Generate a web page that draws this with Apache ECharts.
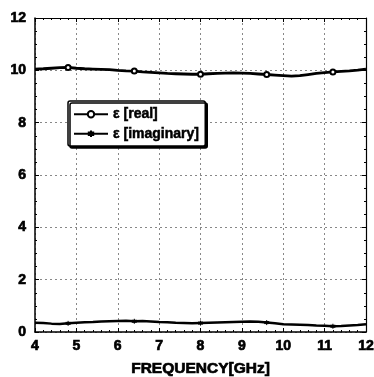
<!DOCTYPE html>
<html>
<head>
<meta charset="utf-8">
<script src="https://cdn.jsdelivr.net/npm/echarts@6/dist/echarts.min.js"></script>
<style>
  html, body { margin: 0; padding: 0; background: #fff; }
  #chart { width: 374px; height: 377px; }
</style>
</head>
<body>
<div id="chart"></div>
<script>
// frequency points (GHz)
var freq = [4.0, 4.2, 4.4, 4.6, 4.8, 5.0, 5.2, 5.4, 5.6, 5.8, 6.0, 6.2, 6.4, 6.6, 6.8,
  7.0, 7.2, 7.4, 7.6, 7.8, 8.0, 8.2, 8.4, 8.6, 8.8, 9.0, 9.2, 9.4, 9.6, 9.8, 10.0,
  10.2, 10.4, 10.6, 10.8, 11.0, 11.2, 11.4, 11.6, 11.8, 12.0];
var epsReal = [10.05, 10.06, 10.08, 10.10, 10.11, 10.08, 10.06, 10.05, 10.04, 10.03, 10.00,
  9.98, 9.97, 9.94, 9.92, 9.90, 9.88, 9.87, 9.86, 9.85, 9.85, 9.87, 9.88, 9.89, 9.90, 9.89,
  9.88, 9.86, 9.84, 9.82, 9.80, 9.78, 9.80, 9.84, 9.88, 9.91, 9.94, 9.96, 9.98, 10.01, 10.05];
var epsImag = [0.35, 0.34, 0.32, 0.31, 0.33, 0.35, 0.37, 0.38, 0.40, 0.41, 0.42, 0.43, 0.41,
  0.42, 0.40, 0.38, 0.37, 0.35, 0.34, 0.33, 0.34, 0.35, 0.36, 0.37, 0.38, 0.39, 0.40, 0.39,
  0.36, 0.33, 0.30, 0.29, 0.28, 0.27, 0.25, 0.24, 0.22, 0.23, 0.25, 0.27, 0.30];
var seriesNames = ['ε [real]', 'ε [imaginary]'];
var xTicks = [4, 5, 6, 7, 8, 9, 10, 11, 12];
var yTicks = [0, 2, 4, 6, 8, 10, 12];

var font = 'Liberation Sans';
var plusPath = 'path://M5,0 L5,10 M0,3 L10,3 M0,7 L10,7';
var boldText = {
  fontFamily: font, fontWeight: 'bold', fontSize: 14, color: '#000',
  textBorderColor: '#000', textBorderWidth: 0.7
};

function pairs(ys) {
  return freq.map(function (f, i) { return [f, ys[i]]; });
}
// markers every 8th sample, starting at 4.8 GHz
function markerSize(size) {
  return function (v, p) { return (p.dataIndex % 8 === 4) ? size : 0; };
}

var chart = echarts.init(document.getElementById('chart'));

var gridLine = { show: true, lineStyle: { color: '#888', type: [2, 3], width: 1 } };
var commonX = {
  type: 'value', min: xTicks[0], max: xTicks[xTicks.length - 1], interval: 1
};
var commonY = {
  type: 'value', min: yTicks[0], max: yTicks[yTicks.length - 1], interval: 2
};

chart.setOption({
  animation: false,
  backgroundColor: '#fff',
  grid: { left: 35, right: 8, top: 18, bottom: 45, outerBoundsMode: 'none', containLabel: false },
  legend: {
    data: seriesNames,
    orient: 'vertical',
    left: 68, top: 101,
    padding: [6, 6, 5, 5],
    itemGap: 5,
    itemWidth: 34, itemHeight: 8,
    backgroundColor: '#fff',
    borderColor: '#000', borderWidth: 1.5, borderRadius: 2,
    shadowColor: '#000', shadowOffsetX: 2, shadowOffsetY: 2, shadowBlur: 0,
    textStyle: Object.assign({}, boldText, { fontSize: 14, textBorderWidth: 0.5 })
  },
  xAxis: [
    Object.assign({}, commonX, {
      position: 'bottom',
      name: 'FREQUENCY[GHz]', nameLocation: 'middle', nameGap: 29,
      nameTextStyle: Object.assign({}, boldText, { fontSize: 15.5 }),
      axisLine: { onZero: false, lineStyle: { color: '#000', width: 1.5 } },
      axisTick: { inside: true, length: 4, lineStyle: { color: '#000' } },
      minorTick: { show: true, splitNumber: 5, length: 2, lineStyle: { color: '#000' } },
      axisLabel: Object.assign({ margin: 7 }, boldText),
      splitLine: gridLine
    }),
    Object.assign({}, commonX, {
      position: 'top',
      axisLine: { onZero: false, lineStyle: { color: '#000', width: 1.2 } },
      axisTick: { inside: true, length: 4, lineStyle: { color: '#000' } },
      minorTick: { show: true, splitNumber: 5, length: 2, lineStyle: { color: '#000' } },
      axisLabel: { show: false },
      splitLine: { show: false }
    })
  ],
  yAxis: [
    Object.assign({}, commonY, {
      position: 'left',
      axisLine: { onZero: false, lineStyle: { color: '#000', width: 1.5 } },
      axisTick: { inside: true, length: 4, lineStyle: { color: '#000' } },
      minorTick: { show: true, splitNumber: 4, length: 2, lineStyle: { color: '#000' } },
      axisLabel: Object.assign({ margin: 9 }, boldText),
      splitLine: gridLine
    }),
    Object.assign({}, commonY, {
      position: 'right',
      axisLine: { onZero: false, lineStyle: { color: '#000', width: 1.2 } },
      axisTick: { inside: true, length: 4, lineStyle: { color: '#000' } },
      minorTick: { show: true, splitNumber: 4, length: 2, lineStyle: { color: '#000' } },
      axisLabel: { show: false },
      splitLine: { show: false }
    })
  ],
  series: [
    {
      name: seriesNames[0], type: 'line', data: pairs(epsReal),
      symbol: 'emptyCircle', symbolSize: markerSize(5), showAllSymbol: true,
      lineStyle: { color: '#000', width: 2.8 },
      itemStyle: { color: '#000', borderColor: '#000', borderWidth: 1 }
    },
    {
      name: seriesNames[1], type: 'line', data: pairs(epsImag),
      symbol: plusPath, symbolSize: markerSize(5), showAllSymbol: true,
      lineStyle: { color: '#000', width: 2.5 },
      itemStyle: { color: 'none', borderColor: '#000', borderWidth: 1 }
    }
  ]
});
</script>
</body>
</html>
